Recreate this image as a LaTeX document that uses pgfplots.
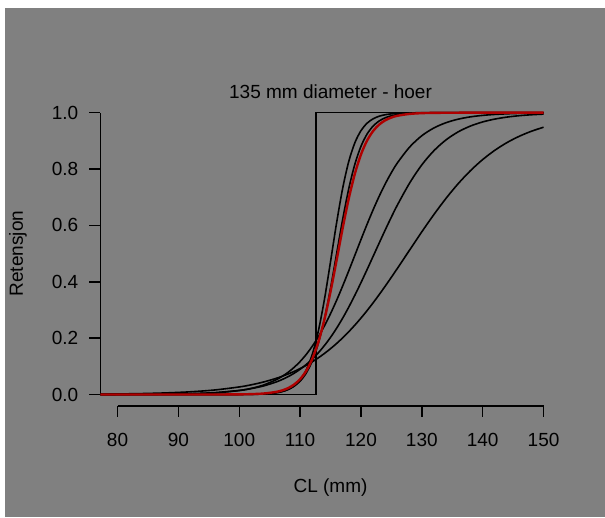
\documentclass[border=0pt]{standalone}
\usepackage{fontspec}
\setmainfont{Liberation Sans}
\usepackage{pgfplots}
\usepackage{pgfplotstable}
\pgfplotsset{compat=1.18}
\definecolor{bg}{RGB}{128,128,128}
\definecolor{rcol}{RGB}{175,0,0}
\pgfplotstableread{
x      A       H       R       B       C       D
77.2   0       0       0       0.0001  0.0002  0.0014
80     0       0       0       0.0002  0.0003  0.0020
84     0       0       0       0.0004  0.0007  0.0034
88     0       0       0       0.0010  0.0015  0.0058
92     0       0       0       0.0024  0.0032  0.0097
96     0       0       0.0001  0.0059  0.0068  0.0162
100    0.0002  0.0003  0.0006  0.0142  0.0145  0.0269
102    0.0006  0.0009  0.0015  0.0220  0.0211  0.0346
104    0.0019  0.0025  0.0036  0.0338  0.0305  0.0445
106    0.0058  0.0067  0.0091  0.0518  0.0440  0.0569
107    0.0100  0.0110  0.0143  0.0638  0.0528  0.0643
108    0.0174  0.0180  0.0225  0.0784  0.0631  0.0726
109    0.0301  0.0293  0.0352  0.0961  0.0753  0.0818
110    0.0516  0.0474  0.0546  0.1171  0.0896  0.0921
111    0.0869  0.0759  0.0838  0.1421  0.1064  0.1036
112    0.1428  0.1192  0.1265  0.1715  0.1259  0.1163
113    0.2258  0.1824  0.1867  0.2052  0.1483  0.1303
114    0.3380  0.2689  0.2666  0.2438  0.1739  0.1458
115    0.4720  0.3775  0.3654  0.2870  0.2030  0.1627
116    0.6100  0.5000  0.4770  0.3345  0.2354  0.1812
117    0.7326  0.6225  0.5910  0.3856  0.2713  0.2013
118    0.8275  0.7311  0.6960  0.4393  0.3105  0.2230
119    0.8936  0.8176  0.7838  0.4945  0.3525  0.2464
120    0.9363  0.8808  0.8517  0.5498  0.3970  0.2713
121    0.9626  0.9241  0.9010  0.6040  0.4432  0.2977
122    0.9783  0.9526  0.9351  0.6557  0.4905  0.3256
123    0.9875  0.9707  0.9580  0.7039  0.5379  0.3548
124    0.9928  0.9820  0.9731  0.7480  0.5847  0.3851
125    0.9959  0.9890  0.9828  0.7875  0.6299  0.4163
126    0.9976  0.9933  0.9891  0.8223  0.6730  0.4482
128    0.9992  0.9975  0.9956  0.8782  0.7506  0.5130
130    0.9998  0.9991  0.9983  0.9183  0.8149  0.5774
132    1       0.9997  0.9993  0.9460  0.8655  0.6392
134    1       0.9999  0.9997  0.9647  0.9039  0.6968
136    1       1       0.9999  0.9771  0.9323  0.7488
138    1       1       1       0.9852  0.9527  0.7945
140    1       1       1       0.9904  0.9672  0.8337
142    1       1       1       0.9938  0.9773  0.8667
144    1       1       1       0.9960  0.9844  0.8940
146    1       1       1       0.9975  0.9893  0.9162
148    1       1       1       0.9984  0.9926  0.9341
150    1       1       1       0.9990  0.9949  0.9484
}\curves
\pgfplotstableread{
x      y
77.2   0
112.6  0
112.6  1
150    1
}\stepcurve
\begin{document}
\fontsize{19}{23}\selectfont
\begin{tikzpicture}
\fill[white] (-100.5pt,-111.2pt) rectangle (504.5pt,405.8pt);
\fill[bg] (-95.5pt,-111.2pt) rectangle (504.5pt,397.8pt);
\begin{axis}[at={(0pt,0pt)}, anchor=south west, scale only axis,
  width=460.1pt, height=304.4pt,
  xmin=77.2, xmax=152.8, ymin=-0.04, ymax=1.04,
  axis lines*=left, axis line style={draw=none},
  xtick={80,90,100,110,120,130,140,150},
  xticklabels={80,90,100,110,120,130,140,150},
  ytick={0,0.2,0.4,0.6,0.8,1.0},
  yticklabels={0.0,0.2,0.4,0.6,0.8,1.0},
  tick align=outside, major tick length=11pt,
  tick style={black, line width=1.5pt},
  xticklabel style={anchor=center, yshift=-23pt, inner sep=0pt, font=\fontsize{19}{23}\selectfont},
  yticklabel style={anchor=east, inner sep=0pt, xshift=-11pt, font=\fontsize{19}{23}\selectfont},
  title={135 mm diameter - hoer},
  title style={at={(axis description cs:0.5,1.0112)}, anchor=center, inner sep=0pt, font=\fontsize{19}{23}\selectfont},
  xlabel={CL (mm)},
  xlabel style={at={(axis description cs:0.5,-0.270)}, anchor=center, inner sep=0pt, font=\fontsize{19}{23}\selectfont},
  ylabel={Retensjon},
  ylabel style={at={(axis description cs:-0.1793,0.5)}, anchor=center, inner sep=0pt, font=\fontsize{19}{23}\selectfont},
  clip=false,
]
\draw[black, line width=1.5pt] (axis cs:80,-0.04) -- (axis cs:150,-0.04);
\draw[black, line width=1.5pt] (axis cs:77.2,0) -- (axis cs:77.2,1);
\addplot[black, line width=1.4pt] table[x=x, y=y] {\stepcurve};
\addplot[black, line width=1.6pt, smooth, tension=0.5] table[x=x, y=A] {\curves};
\addplot[black, line width=1.6pt, smooth, tension=0.5] table[x=x, y=H] {\curves};
\addplot[black, line width=1.6pt, smooth, tension=0.5] table[x=x, y=B] {\curves};
\addplot[black, line width=1.6pt, smooth, tension=0.5] table[x=x, y=C] {\curves};
\addplot[black, line width=1.6pt, smooth, tension=0.5] table[x=x, y=D] {\curves};
\addplot[rcol, line width=2.4pt, smooth, tension=0.5] table[x=x, y=R] {\curves};
\end{axis}
\pgfresetboundingbox
\useasboundingbox (-100.5pt,-111.2pt) rectangle (504.5pt,405.8pt);
\end{tikzpicture}
\end{document}
